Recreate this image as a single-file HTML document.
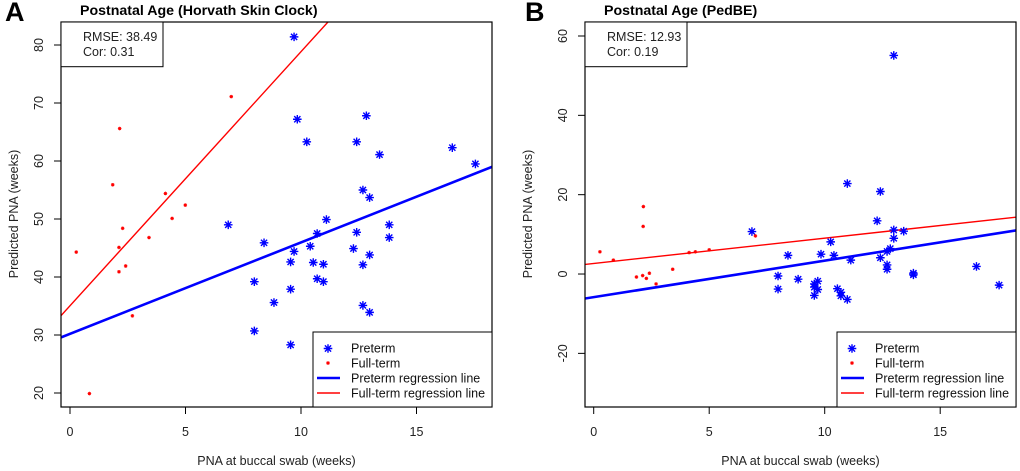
<!DOCTYPE html>
<html><head><meta charset="utf-8"><style>
body{margin:0;background:#fff;}
svg{display:block;font-family:"Liberation Sans",Arial,sans-serif;}
</style></head><body>
<svg id="c" width="1020" height="471"></svg>
<script>
const ptX_A=[9.7,9.84,10.25,12.83,12.41,13.4,16.55,17.55,12.68,12.97,11.1,6.85,13.82,13.82,10.7,12.41,8.4,10.4,12.27,9.7,9.55,10.53,10.97,12.68,12.97,10.7,10.97,7.98,9.55,8.83,12.68,12.97,7.98,9.55];
const ptY_A=[81.4,67.2,63.3,67.8,63.3,61.1,62.3,59.5,55,53.7,49.9,49,49,46.8,47.5,47.7,45.9,45.3,44.9,44.4,42.6,42.5,42.2,42.1,43.8,39.7,39.2,39.2,37.9,35.6,35.1,33.9,30.7,28.3];
const ftX_A=[6.98,2.15,1.85,4.13,4.99,4.42,2.28,3.42,0.27,2.12,2.41,2.12,2.7,0.84];
const ftY_A=[71.1,65.6,55.9,54.4,52.4,50.1,48.4,46.8,44.3,45.1,41.9,40.9,33.3,19.9];
const ptX_B=[12.99,10.98,12.41,12.27,12.99,13.42,6.85,12.99,10.26,12.84,12.7,8.41,9.84,10.4,12.41,11.13,12.7,12.7,16.57,13.84,13.84,7.98,8.85,9.7,9.55,9.55,9.7,10.55,10.7,10.7,9.55,10.98,7.98,17.55];
const ptY_B=[55.1,22.8,20.8,13.4,11.1,10.8,10.7,9,8.1,6.4,5.7,4.7,5,4.7,4.1,3.5,2.3,1.2,1.9,0.2,-0.2,-0.5,-1.3,-1.8,-2.5,-3.3,-3.9,-3.7,-4.6,-5.5,-5.4,-6.4,-3.8,-2.8];
const ftX_B=[2.15,2.14,7.0,0.27,5.0,4.4,4.13,0.85,3.42,2.41,1.85,2.12,2.28,2.7];
const ftY_B=[17,12,9.6,5.6,6.1,5.6,5.4,3.5,1.2,0.2,-0.75,-0.4,-1.1,-2.5];
const regA={pre:[30.2,1.576],full:[35.05,4.38]};
const regB={pre:[-5.83,0.92],full:[2.66,0.638]};
const xTicks=[0,5,10,15];
const yTicksA=[20,30,40,50,60,70,80];
const yTicksB=[-20,0,20,40,60];

const svg=document.getElementById('c');
const NS='http://www.w3.org/2000/svg';
function mk(tag,at,parent){const e=document.createElementNS(NS,tag);for(const k in at)e.setAttribute(k,at[k]);(parent||svg).appendChild(e);return e;}
function star(g,cx,cy,r,col,w){
  const d=`M${cx-r},${cy}H${cx+r}M${cx},${cy-r}V${cy+r}M${cx-r*0.72},${cy-r*0.72}L${cx+r*0.72},${cy+r*0.72}M${cx-r*0.72},${cy+r*0.72}L${cx+r*0.72},${cy-r*0.72}`;
  return mk('path',{d:d,stroke:col,'stroke-width':w,fill:'none'},g);
}
function panel(o){
  const g=mk('g',{});
  
  
  const L=o.left,R=o.right,T=22,B=407;
  const sx=v=>o.x0+v*23.1;
  const sy=v=>o.yRef+(o.yRefVal-v)*o.ppu;
  const vx=p=>(p-o.x0)/23.1;
  const clip='cl'+o.name;
  const cp=mk('clipPath',{id:clip},g);mk('rect',{x:L,y:T,width:R-L,height:B-T},cp);
  let t=mk('text',{x:o.letterX,y:21,'font-size':27,'font-weight':'bold'},g);t.textContent=o.letter;
  
  t=mk('text',{x:o.titleX,y:15,'font-size':14.2,'font-weight':'bold'},g);t.textContent=o.title;
  
  const xa=mk('g',{},g);
  xTicks.forEach(v=>{const x=sx(v);mk('line',{x1:x,x2:x,y1:B,y2:B+7,stroke:'#000'},xa);
    const tt=mk('text',{x:x,y:436,'font-size':12.5,'text-anchor':'middle',fill:'#222'},xa);tt.textContent=v;});
  mk('line',{x1:sx(0),x2:sx(15),y1:B,y2:B,stroke:'#000'},xa);
  const ya=mk('g',{},g);
  o.yTicks.forEach(v=>{const y=sy(v);mk('line',{x1:L-7,x2:L,y1:y,y2:y,stroke:'#000'},ya);
    const tt=mk('text',{x:0,y:0,'font-size':12.5,'text-anchor':'middle',fill:'#222',transform:`translate(${L-18},${y}) rotate(-90)`},ya);tt.textContent=v;});
  mk('line',{x1:L,x2:L,y1:sy(o.yTicks[0]),y2:sy(o.yTicks[o.yTicks.length-1]),stroke:'#000'},ya);
  t=mk('text',{x:0,y:0,'font-size':12.5,'text-anchor':'middle',fill:'#222',transform:`translate(${o.ylabX},${214}) rotate(-90)`},g);t.textContent='Predicted PNA (weeks)';
  
  t=mk('text',{x:(L+R)/2,y:465,'font-size':12.5,'text-anchor':'middle',fill:'#222'},g);t.textContent='PNA at buccal swab (weeks)';
  
  const pg=mk('g',{'clip-path':`url(#${clip})`},g);
  const x1=vx(L),x2=vx(R);
  let ln=mk('line',{x1:L,x2:R,y1:sy(o.reg.pre[0]+o.reg.pre[1]*x1),y2:sy(o.reg.pre[0]+o.reg.pre[1]*x2),stroke:'#0000ff','stroke-width':2.6},pg);
  
  ln=mk('line',{x1:L,x2:R,y1:sy(o.reg.full[0]+o.reg.full[1]*x1),y2:sy(o.reg.full[0]+o.reg.full[1]*x2),stroke:'#ff0000','stroke-width':1.4},pg);
  
  o.px.forEach((v,i)=>{const s=star(pg,sx(v),sy(o.py[i]),4.3,'#0000ff',1.4);
    });
  o.fx.forEach((v,i)=>{const s=star(pg,sx(v),sy(o.fy[i]),1.8,'#ff0000',0.9);
    });
  mk('rect',{x:L,y:T,width:R-L,height:B-T,fill:'none',stroke:'#000','stroke-width':1.2},g);
  const ib=mk('g',{},g);
  mk('rect',{x:L,y:T,width:o.infoW,height:44.7,fill:'#fff',stroke:'#000'},ib);
  t=mk('text',{x:L+22,y:41,'font-size':12.5,fill:'#222'},ib);t.textContent=o.rmse;
  t=mk('text',{x:L+22,y:56,'font-size':12.5,fill:'#222'},ib);t.textContent=o.cor;
  const lg=mk('g',{},g);
  const lx=o.legX;
  mk('rect',{x:lx,y:332,width:R-lx,height:75,fill:'#fff',stroke:'#000'},lg);
  star(lg,lx+15,348.5,4.3,'#0000ff',1.4);star(lg,lx+15,363,1.8,'#ff0000',0.9);
  mk('line',{x1:lx+4,x2:lx+27,y1:378,y2:378,stroke:'#0000ff','stroke-width':2.6},lg);
  mk('line',{x1:lx+4,x2:lx+27,y1:393,y2:393,stroke:'#ff0000','stroke-width':1.4},lg);
  ['Preterm','Full-term','Preterm regression line','Full-term regression line'].forEach((s,i)=>{
    const e=mk('text',{x:lx+38,y:352.5+i*15,'font-size':12.5,fill:'#111'},lg);e.textContent=s;
    });
}
panel({name:'panel-a',letter:'A',letterX:5,title:'Postnatal Age (Horvath Skin Clock)',titleX:80,left:61,right:492,x0:70,yRef:45,yRefVal:80,ppu:5.8,yTicks:yTicksA,ylabX:18,reg:regA,px:ptX_A,py:ptY_A,fx:ftX_A,fy:ftY_A,infoW:102,rmse:'RMSE: 38.49',cor:'Cor: 0.31',legX:313});
panel({name:'panel-b',letter:'B',letterX:525,title:'Postnatal Age (PedBE)',titleX:604,left:585,right:1016,x0:593.7,yRef:36,yRefVal:60,ppu:3.967,yTicks:yTicksB,ylabX:532,reg:regB,px:ptX_B,py:ptY_B,fx:ftX_B,fy:ftY_B,infoW:102,rmse:'RMSE: 12.93',cor:'Cor: 0.19',legX:837});
</script>
</body></html>
